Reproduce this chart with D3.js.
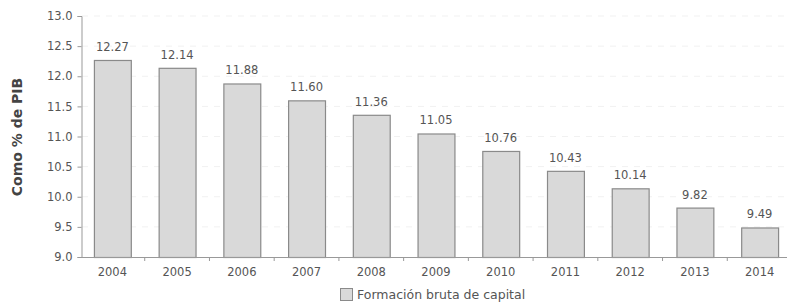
<!DOCTYPE html>
<html><head><meta charset="utf-8">
<script src="https://cdn.jsdelivr.net/npm/d3@7"></script>
<style>body{margin:0;background:#fff}svg{display:block}</style>
</head><body>
<svg id="c" width="787" height="304"></svg>
<script>
const years = ["2004","2005","2006","2007","2008","2009","2010","2011","2012","2013","2014"];
const values = [12.27,12.14,11.88,11.60,11.36,11.05,10.76,10.43,10.14,9.82,9.49];
const yTicks = [9.0,9.5,10.0,10.5,11.0,11.5,12.0,12.5,13.0];
const seriesName = "Formación bruta de capital";
const yTitle = "Como % de PIB";

const svg = d3.select("#c");
const font = "'DejaVu Sans', sans-serif";
const x = d3.scaleBand().domain(years).range([80, 792]).paddingInner(0.43).paddingOuter(0.215);
const y = d3.scaleLinear().domain([9, 13]).range([257, 16]);

// grid
svg.append("g").selectAll("line").data(yTicks.slice(1)).join("line")
  .attr("x1", 82).attr("x2", 787).attr("y1", d => y(d)).attr("y2", d => y(d))
  .attr("stroke", "#f1f1f1").attr("stroke-width", 1).attr("stroke-dasharray", "6,6");

// bars
svg.append("g").selectAll("rect").data(values).join("rect")
  .attr("x", (d,i) => x(years[i]) + 0.5).attr("width", x.bandwidth())
  .attr("y", d => y(d) + 0.5).attr("height", d => y(9) - y(d))
  .attr("fill", "#d9d9d9").attr("stroke", "#8a8a8a").attr("stroke-width", 1.2);

// value labels
svg.append("g").selectAll("text").data(values).join("text")
  .attr("x", (d,i) => x(years[i]) + x.bandwidth()/2).attr("y", d => y(d) - 9)
  .attr("text-anchor", "middle").attr("font-family", font).attr("font-size", 11.5)
  .attr("fill", "#555").text(d => d.toFixed(2));

// y axis
const ya = svg.append("g").attr("transform", "translate(81.5,0)")
  .call(d3.axisLeft(y).tickValues(yTicks).tickFormat(d3.format(".1f")).tickSize(4).tickPadding(5));
ya.select(".domain").attr("stroke", "#999");
ya.selectAll(".tick line").attr("stroke", "#999");
ya.selectAll("text").attr("font-family", font).attr("font-size", 11.5).attr("fill", "#555");

// x axis
const xa = svg.append("g").attr("transform", "translate(0,257.5)")
  .call(d3.axisBottom(x).tickSize(0).tickPadding(10));
xa.select(".domain").attr("stroke", "#999").attr("d", "M81,0H787");
xa.selectAll("text").attr("font-family", font).attr("font-size", 11.5).attr("fill", "#555");
// category boundary ticks
svg.append("g").selectAll("line").data(years.slice(1)).join("line")
  .attr("x1", d => x(d) - x.step()*x.paddingInner()/2).attr("x2", d => x(d) - x.step()*x.paddingInner()/2)
  .attr("y1", 257.5).attr("y2", 261).attr("stroke", "#999");

// y title
svg.append("text").attr("transform", "translate(22,137) rotate(-90)")
  .attr("text-anchor", "middle").attr("font-family", font).attr("font-size", 14)
  .attr("font-weight", "bold").attr("fill", "#444").text(yTitle);

// legend
const lg = svg.append("g").attr("transform", "translate(340,288)");
lg.append("rect").attr("x", 0.5).attr("y", 0.5).attr("width", 12).attr("height", 12)
  .attr("fill", "#d9d9d9").attr("stroke", "#8a8a8a");
lg.append("text").attr("x", 17).attr("y", 11).attr("font-family", font).attr("font-size", 12.5)
  .attr("fill", "#555").text(seriesName);
</script>
</body></html>
